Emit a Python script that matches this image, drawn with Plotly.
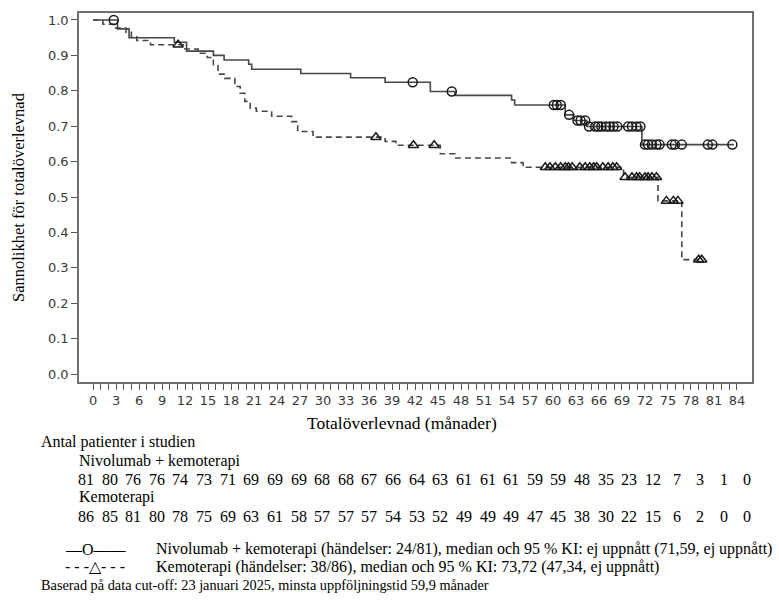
import plotly.graph_objects as go

# Kaplan-Meier steps (months, survival probability)
niv_time = [0, 3.2, 4.7, 10.6, 12.2, 15.7, 17.1, 20.3, 20.7, 27.1, 33.6, 38.1, 44.0,
            47.2, 54.6, 55.0, 61.6, 62.7, 64.4, 71.6, 83.6]
niv_surv = [1.0, 0.975, 0.950, 0.937, 0.912, 0.900, 0.887, 0.875, 0.861, 0.849, 0.837,
            0.824, 0.798, 0.787, 0.774, 0.760, 0.732, 0.716, 0.699, 0.648, 0.648]
niv_cens = [2.7, 41.7, 46.8, 60.1, 60.5, 61.0, 62.1, 63.2, 63.6, 64.2, 64.7, 65.5, 65.9,
            66.3, 66.9, 67.4, 67.9, 68.4, 69.8, 70.3, 70.9, 71.4, 72.0, 72.4, 72.9, 73.5,
            73.9, 75.5, 75.9, 76.8, 80.2, 80.8, 83.4]

chemo_time = [0, 1.3, 3.0, 4.3, 5.0, 5.7, 7.5, 12.0, 13.7, 14.9, 15.7, 16.3, 17.2, 18.5,
              19.2, 19.8, 20.5, 21.3, 23.3, 25.9, 26.7, 28.7, 38.1, 39.5, 45.3, 47.2,
              54.6, 56.1, 69.2, 73.7, 76.8, 79.5]
chemo_surv = [1.0, 0.988, 0.977, 0.965, 0.953, 0.942, 0.930, 0.918, 0.906, 0.894, 0.871,
              0.847, 0.835, 0.812, 0.793, 0.770, 0.751, 0.742, 0.728, 0.713, 0.685, 0.669,
              0.657, 0.646, 0.622, 0.610, 0.597, 0.584, 0.556, 0.489, 0.323, 0.323]
chemo_cens = [11.1, 36.9, 41.8, 44.5, 59.0, 59.6, 60.3, 61.0, 61.6, 62.0, 62.5, 63.5,
              64.2, 64.8, 65.3, 65.7, 66.5, 67.2, 67.8, 68.3, 69.4, 70.3, 70.9, 71.3,
              72.0, 72.4, 72.9, 73.5, 74.8, 75.7, 76.3, 79.0, 79.4]

risk_months = list(range(0, 85, 3))
niv_risk = [81, 80, 76, 76, 74, 73, 71, 69, 69, 69, 68, 68, 67, 66, 64, 63, 61, 61, 61,
            59, 59, 48, 35, 23, 12, 7, 3, 1, 0]
chemo_risk = [86, 85, 81, 80, 78, 75, 69, 63, 61, 58, 57, 57, 57, 54, 53, 52, 49, 49, 49,
              47, 45, 38, 30, 22, 15, 6, 2, 0, 0]

niv_label = "Nivolumab + kemoterapi"
chemo_label = "Kemoterapi"
niv_legend = "Nivolumab + kemoterapi (händelser: 24/81), median och 95 % KI: ej uppnått (71,59, ej uppnått)"
chemo_legend = "Kemoterapi (händelser: 38/86), median och 95 % KI: 73,72 (47,34, ej uppnått)"
footnote = "Baserad på data cut-off: 23 januari 2025, minsta uppföljningstid 59,9 månader"


def surv_at(t, times, surv):
    val = surv[0]
    for tt, ss in zip(times, surv):
        if tt <= t:
            val = ss
    return val


# pixel -> paper helpers (plot area is 79..752 x 11..382 px)
def px(x):
    return (x - 79) / 673.0


def py(y):
    return (382 - y) / 371.0


serif = "Liberation Serif"
line_col = "#474747"
mark_col = "#1a1a1a"

fig = go.Figure()

fig.add_trace(go.Scatter(x=niv_time, y=niv_surv, mode="lines", line_shape="hv",
                         line=dict(color=line_col, width=1.6), hoverinfo="skip"))
fig.add_trace(go.Scatter(x=chemo_time, y=chemo_surv, mode="lines", line_shape="hv",
                         line=dict(color=line_col, width=1.6, dash="6px,4px"), hoverinfo="skip"))
fig.add_trace(go.Scatter(x=niv_cens, y=[surv_at(t, niv_time, niv_surv) for t in niv_cens],
                         mode="markers",
                         marker=dict(symbol="circle-open", size=9, color=mark_col,
                                     line=dict(width=1.5, color=mark_col))))
fig.add_trace(go.Scatter(x=chemo_cens, y=[surv_at(t, chemo_time, chemo_surv) for t in chemo_cens],
                         mode="markers",
                         marker=dict(symbol="triangle-up-open", size=9, color=mark_col,
                                     line=dict(width=1.5, color=mark_col))))

annotations = []


def add_text(text, x, y, size=16, xanchor="left"):
    annotations.append(dict(text=text, x=px(x), y=py(y), xref="paper", yref="paper",
                            xanchor=xanchor, yanchor="middle", showarrow=False,
                            font=dict(family=serif, size=size, color="black")))


# axis titles
annotations.append(dict(text="Totalöverlevnad (månader)", x=px(402), y=py(423), xref="paper",
                        yref="paper", xanchor="center", yanchor="middle", showarrow=False,
                        font=dict(family=serif, size=17.5, color="black")))
annotations.append(dict(text="Sannolikhet för totalöverlevnad", x=px(18), y=py(196),
                        xref="paper", yref="paper", textangle=-90, xanchor="center",
                        yanchor="middle", showarrow=False,
                        font=dict(family=serif, size=16.5, color="black")))

# risk table
add_text("Antal patienter i studien", 39, 442)
add_text(niv_label, 77, 461)
add_text(chemo_label, 77, 498)
for m, n1, n2 in zip(risk_months, niv_risk, chemo_risk):
    annotations.append(dict(text=str(n1), x=m, y=py(480), xref="x2", yref="paper",
                            xanchor="center", yanchor="middle", showarrow=False,
                            font=dict(family=serif, size=16, color="black")))
    annotations.append(dict(text=str(n2), x=m, y=py(517), xref="x2", yref="paper",
                            xanchor="center", yanchor="middle", showarrow=False,
                            font=dict(family=serif, size=16, color="black")))

# legend
add_text("—O——", 63, 550)
add_text(niv_legend, 154, 550)
add_text("- - -△- - -", 63, 568)
add_text(chemo_legend, 154, 568)
add_text(footnote, 39, 586, size=14.3)

fig.update_layout(
    width=779, height=607,
    margin=dict(l=79, r=27, t=11, b=225, pad=0),
    plot_bgcolor="white", paper_bgcolor="white",
    showlegend=False,
    annotations=annotations,
    xaxis=dict(range=[-1.83, 85.96], tickvals=risk_months, ticks="outside", ticklen=6,
               tickwidth=1, tickcolor="#555", showline=True, linecolor="#707070",
               linewidth=1.5, mirror=True, showgrid=False, zeroline=False,
               tickfont=dict(family="DejaVu Sans", size=13, color="#3a3a3a"),
               minor=dict(tickvals=list(range(0, 85)), ticks="outside", ticklen=6,
                          tickwidth=1, tickcolor="#555")),
    xaxis2=dict(range=[-0.89, 84.59], overlaying="x", visible=False),
    yaxis=dict(range=[-0.0225, 1.0197], tickvals=[i / 10 for i in range(11)],
               tickformat=".1f", ticks="outside", ticklen=6, tickwidth=1, tickcolor="#555",
               showline=True, linecolor="#707070", linewidth=1.5, mirror=True,
               showgrid=False, zeroline=False,
               tickfont=dict(family="DejaVu Sans", size=13, color="#3a3a3a")),
)

# drop the default page margin so the figure sits at the window's corner
fig.write_html("out.html", config={"displayModeBar": False},
               post_script="document.body.style.margin='0';")
